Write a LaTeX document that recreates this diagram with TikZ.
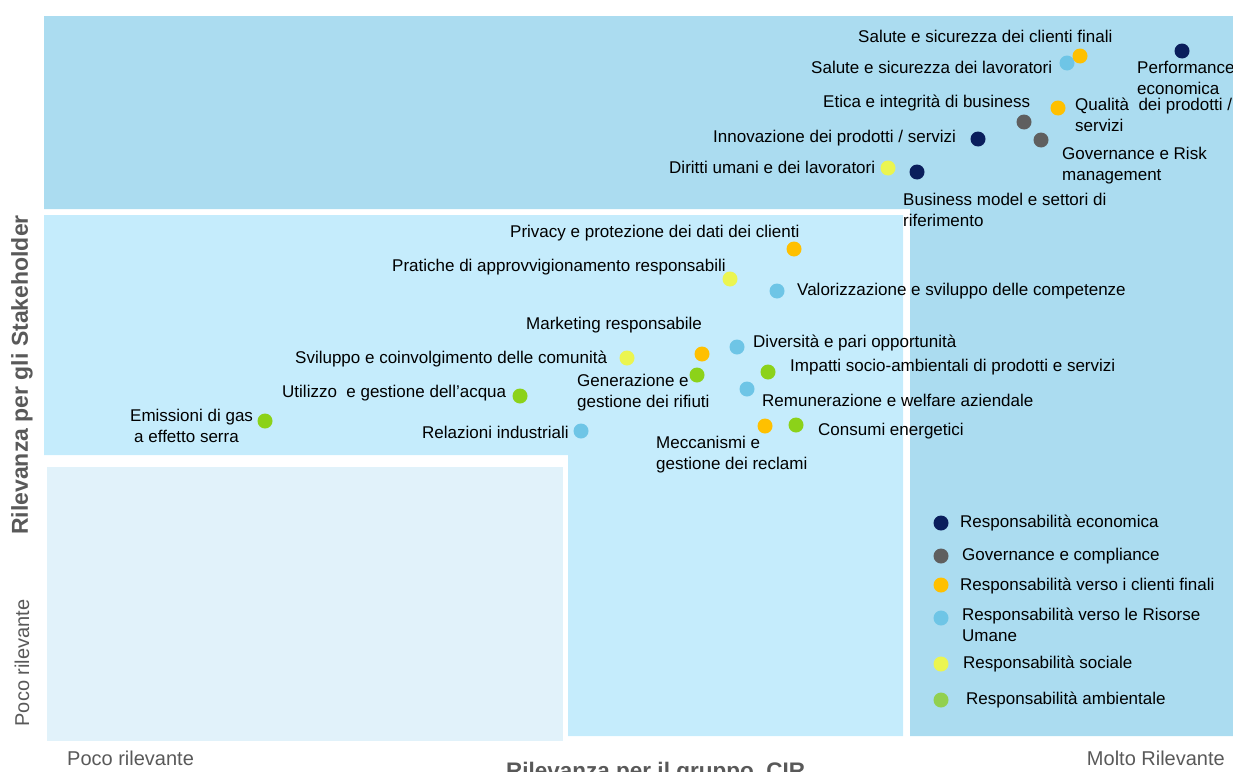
\documentclass[tikz,border=0pt]{standalone}
\usepackage{fontspec}
\setmainfont{Liberation Sans}
\definecolor{zonetop}{RGB}{171,220,240}
\definecolor{zonemid}{RGB}{197,236,252}
\definecolor{zonelow}{RGB}{225,242,250}
\definecolor{econ}{RGB}{10,30,92}
\definecolor{govc}{RGB}{95,95,95}
\definecolor{clic}{RGB}{255,192,0}
\definecolor{humc}{RGB}{110,197,230}
\definecolor{socc}{RGB}{235,245,80}
\definecolor{ambc}{RGB}{140,210,25}
\definecolor{ambl}{RGB}{146,208,80}
\definecolor{axisgrey}{RGB}{89,89,89}
\tikzset{
    dot/.style={circle, minimum size=15pt, inner sep=0},
    eco/.style={dot, fill=econ},
    gov/.style={dot, fill=govc},
    cli/.style={dot, fill=clic},
    hum/.style={dot, fill=humc},
    soc/.style={dot, fill=socc},
    amb/.style={dot, fill=ambc},
    lbl/.style={anchor=west, inner sep=0, align=left, font=\fontsize{17}{21}\selectfont},
    ax/.style={inner sep=0, text=axisgrey, font=\fontsize{20}{24}\selectfont},
    axt/.style={inner sep=0, text=axisgrey, font=\fontsize{23}{27}\selectfont\bfseries}
}

\begin{document}
\begin{tikzpicture}[x=1pt, y=-1pt]
    \useasboundingbox (0,0) rectangle (1233,771);
    \fill[zonetop] (44,16) -- (1233,16) -- (1233,736) -- (910,736) -- (910,209) -- (44,209) -- cycle;
    \fill[zonemid] (44,215) -- (903,215) -- (903,736) -- (568,736) -- (568,455) -- (44,455) -- cycle;
    \fill[zonelow] (47,467) rectangle (563,741);

    \node[lbl] (salcli) at (858,36) {Salute e sicurezza dei clienti finali};
    \node[lbl] (sallav) at (811,67) {Salute e sicurezza dei lavoratori};
    \node[lbl] (perf) at (1137,78) {Performance\\economica};
    \node[lbl] (etica) at (823,103) {Etica e integrità di business};
    \node[lbl] (qual) at (1075,115) {Qualità~ dei prodotti /\\servizi};
    \node[lbl] (innov) at (713,138) {Innovazione dei prodotti / servizi};
    \node[lbl] (govrisk) at (1062,166) {Governance e Risk\\management};
    \node[lbl] (diritti) at (669,167) {Diritti umani e dei lavoratori};
    \node[lbl] (busmod) at (903,210) {Business model e settori di\\riferimento};

    \node[lbl] (privacy) at (510,233) {Privacy e protezione dei dati dei clienti};
    \node[lbl] (pratiche) at (392,267) {Pratiche di approvvigionamento responsabili};
    \node[lbl] (valor) at (797,291) {Valorizzazione e sviluppo delle competenze};
    \node[lbl] (market) at (526,325) {Marketing responsabile};
    \node[lbl] (divers) at (753,343) {Diversità e pari opportunità};
    \node[lbl] (svil) at (295,359) {Sviluppo e coinvolgimento delle comunità};
    \node[lbl] (rifiuti) at (577,393) {Generazione e\\gestione dei rifiuti};
    \node[lbl] (impatti) at (790,367) {Impatti socio-ambientali di prodotti e servizi};
    \node[lbl] (acqua) at (282,393) {Utilizzo~ e gestione dell’acqua};
    \node[lbl] (remun) at (762,400) {Remunerazione e welfare aziendale};
    \node[lbl] (emiss) at (130,426) {Emissioni di gas\\\hspace{4pt}a effetto serra};
    \node[lbl] (relaz) at (422,432) {Relazioni industriali};
    \node[lbl] (consumi) at (818,431) {Consumi energetici};
    \node[lbl] (reclami) at (656,455) {Meccanismi e\\gestione dei reclami};

    \node[hum] (dsallav) at (1067,63) {};
    \node[cli] (dsalcli) at (1080,56) {};
    \node[eco] (dperf) at (1182,51) {};
    \node[gov] (detica) at (1024,122) {};
    \node[cli] (dqual) at (1058,108) {};
    \node[eco] (dinnov) at (978,139) {};
    \node[gov] (dgovrisk) at (1041,140) {};
    \node[soc] (ddiritti) at (888,168) {};
    \node[eco] (dbusmod) at (917,172) {};
    \node[cli] (dprivacy) at (794,249) {};
    \node[soc] (dpratiche) at (730,279) {};
    \node[hum] (dvalor) at (777,291) {};
    \node[cli] (dmarket) at (702,354) {};
    \node[hum] (ddivers) at (737,347) {};
    \node[soc] (dsvil) at (627,358) {};
    \node[amb] (drifiuti) at (697,375) {};
    \node[amb] (dimpatti) at (768,372) {};
    \node[amb] (dacqua) at (520,396) {};
    \node[hum] (dremun) at (747,389) {};
    \node[amb] (demiss) at (265,421) {};
    \node[hum] (drelaz) at (581,431) {};
    \node[cli] (dreclami) at (765,426) {};
    \node[amb] (dconsumi) at (796,425) {};

    \node[eco] (keco) at (941,523) {};
    \node[gov] (kgov) at (941,556) {};
    \node[cli] (kcli) at (941,585) {};
    \node[hum] (khum) at (941,618) {};
    \node[soc] (ksoc) at (941,664) {};
    \node[dot, fill=ambl] (kamb) at (941,700) {};
    \node[lbl] (teco) at (960,523) {Responsabilità economica};
    \node[lbl] (tgov) at (962,556) {Governance e compliance};
    \node[lbl] (tcli) at (960,586) {Responsabilità verso i clienti finali};
    \node[lbl] (thum) at (962,625) {Responsabilità verso le Risorse\\Umane};
    \node[lbl] (tsoc) at (963,664) {Responsabilità sociale};
    \node[lbl] (tamb) at (966,700) {Responsabilità ambientale};

    \node[axt, rotate=90] (yaxis) at (22,375) {Rilevanza per gli Stakeholder};
    \node[ax, rotate=90] (ylow) at (22,663) {Poco rilevante};
    \node[ax, anchor=west] (xlow) at (67,758) {Poco rilevante};
    \node[ax, anchor=east] (xhigh) at (1225,758) {Molto Rilevante};
    \node[axt, anchor=north west, font=\fontsize{22.5}{27}\selectfont\bfseries] (xaxis) at (506,762) {Rilevanza per il gruppo~ CIR};
\end{tikzpicture}
\end{document}
